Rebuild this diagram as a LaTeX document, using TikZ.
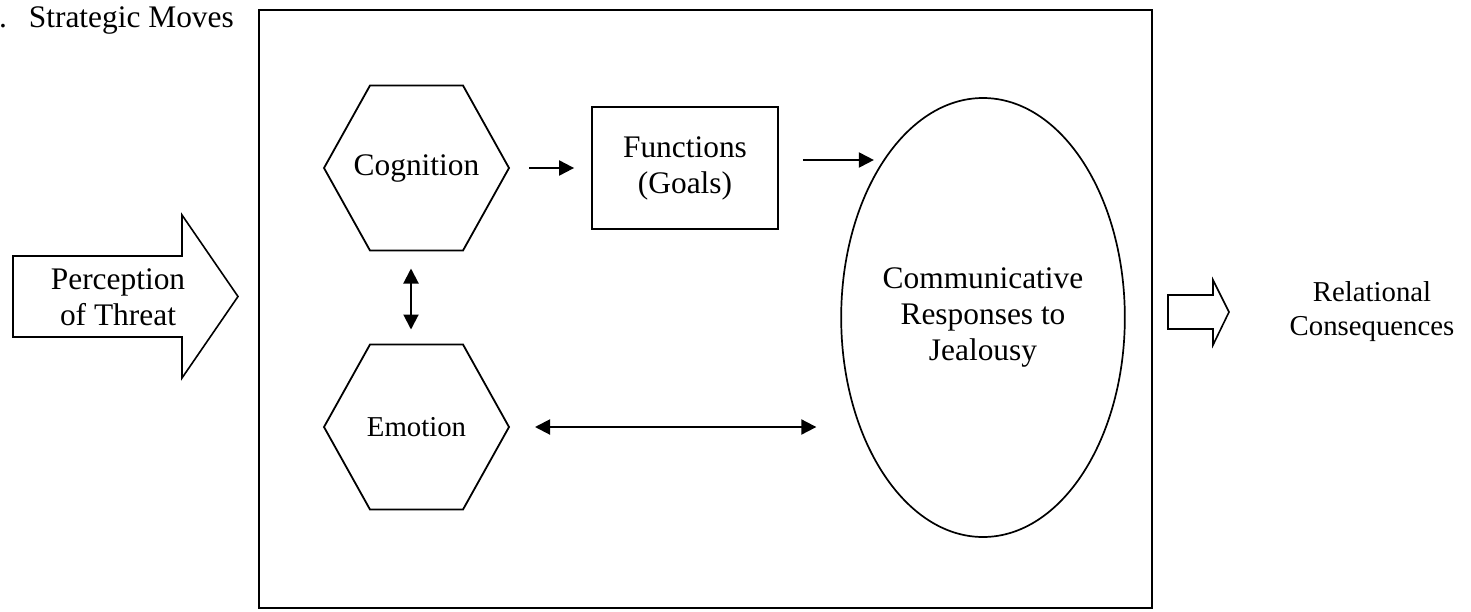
\documentclass[tikz,border=0pt]{standalone}
\usepackage{fontspec}
\setmainfont{Liberation Serif}
\usetikzlibrary{arrows.meta,shapes.geometric,calc}
\begin{document}
\begin{tikzpicture}[x=1pt,y=-1pt,line width=1.8pt,
  twelve/.style={font=\fontsize{31.4}{36}\selectfont},
  eleven/.style={font=\fontsize{28.8}{34}\selectfont},
  txt/.style={inner sep=0pt, align=center},
  conn/.style={-{Triangle[length=15pt,width=15pt]}, line width=2pt},
  dconn/.style={{Triangle[length=15pt,width=15pt]}-{Triangle[length=15pt,width=15pt]}, line width=2pt},
  boxnode/.style={draw, rectangle, inner sep=0pt, line width=1.8pt},
]
\useasboundingbox (0,0) rectangle (1471,611);

% title
\node[twelve, anchor=base, inner sep=0pt] (dot) at (3,27) {.};
\node[twelve, anchor=base west, inner sep=0pt] (sm) at (28,27) {Strategic Moves};

% main frame
\node[boxnode, minimum width=893pt, minimum height=598pt] (main) at (705.5,309) {};

% left big arrow
\draw[line width=1.6pt] (13,256) -- (182,256) -- (182,215) -- (238,296.5) -- (182,378) -- (182,337) -- (13,337) -- cycle;
\node[twelve, txt] (perc) at (118,297) {Perception\\of Threat};

% cognition hexagon
\node[twelve, txt] (cog) at (416.5,168) {Cognition};
\draw (cog.center) ++(-92.5,0) -- ++(46,-82.5) -- ++(93,0) -- ++(46,82.5) -- ++(-46,82.5) -- ++(-93,0) -- cycle;
\coordinate (cogE) at ($(cog.center)+(92.5,0)$);
\coordinate (cogS) at ($(cog.center)+(-5.5,82.5)$);

% emotion hexagon
\node[eleven, txt] (emo) at (416.5,427) {Emotion};
\draw (emo.center) ++(-92.5,0) -- ++(46,-82.5) -- ++(93,0) -- ++(46,82.5) -- ++(-46,82.5) -- ++(-93,0) -- cycle;
\coordinate (emoE) at ($(emo.center)+(92.5,0)$);
\coordinate (emoN) at ($(emo.center)+(-5.5,-82.5)$);

% functions box
\node[boxnode, twelve, align=center, minimum width=186pt, minimum height=122pt] (func) at (685,168) {Functions\\(Goals)};

% communicative ellipse
\node[draw, ellipse, twelve, align=center, inner sep=0pt, minimum width=248pt, minimum height=439pt, line width=1.7pt] (comm) at (983,317.5) {Communicative\\Responses to\\Jealousy};

% right arrow
\draw[line width=1.6pt] (1168,295) -- (1213,295) -- (1213,280) -- (1229,312) -- (1213,345) -- (1213,329) -- (1168,329) -- cycle;
\node[eleven, txt] (rel) at (1372,312) {Relational\\Consequences};

% connectors
\draw[conn, shorten <=20pt, shorten >=17pt] (cogE) -- (func.west);
\coordinate (a2s) at ($(func.east)+(24,-8)$);
\coordinate (a2e) at ($(a2s)+(71,0)$);
\draw[conn] (a2s) -- (a2e);
\draw[dconn, shorten <=18pt, shorten >=15pt] (cogS) -- (emoN);
\draw[dconn, shorten <=26pt, shorten >=24pt] (emoE) -- (emoE -| comm.west);
\end{tikzpicture}
\end{document}
